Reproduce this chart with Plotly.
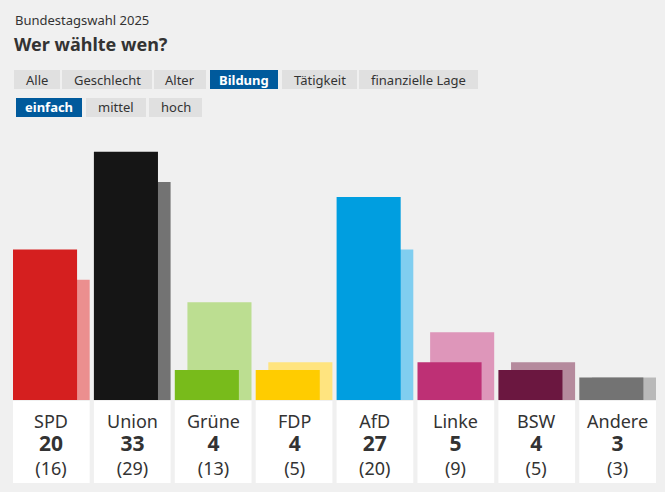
import plotly.graph_objects as go

# Data
parties = ["SPD", "Union", "Grüne", "FDP", "AfD", "Linke", "BSW", "Andere"]
share_2025 = [20, 33, 4, 4, 27, 5, 4, 3]
share_prev = [16, 29, 13, 5, 20, 9, 5, 3]

colors_main = ["#d51f1f", "#151515", "#78bb1b", "#ffcc00", "#009ee0", "#be3075", "#6b1740", "#737373"]
colors_prev = ["#eb8f8f", "#737373", "#bcde91", "#ffe47f", "#80cef0", "#de96ba", "#b58a9d", "#b9b9b9"]

tabs = ["Alle", "Geschlecht", "Alter", "Bildung", "Tätigkeit", "finanzielle Lage"]
subtabs = ["einfach", "mittel", "hoch"]
active_tab = "Bildung"
active_sub = "einfach"

FONT = "Noto Sans"
TXT = "#333333"
BLUE = "#005a9c"
BG = "#f0f0f0"

# plot area in pixels
W, H = 665, 492
L, R, T, B = 13, 656, 140, 483


def px_x(p):
    return (p - L) / (R - L)


def px_y(p):
    return (B - p) / (B - T)


fig = go.Figure()

# white label boxes below the bars
fig.add_trace(go.Bar(
    x=parties, y=[10.9] * len(parties), base=-11.04,
    width=0.948, marker=dict(color="white", line_width=0),
    hoverinfo="skip", showlegend=False,
))

# previous values (lighter, shifted right, behind)
fig.add_trace(go.Bar(
    x=parties, y=share_prev, offset=-0.318, width=0.792,
    marker=dict(color=colors_prev, line_width=0),
    name="vorher", showlegend=False,
))

# current values
fig.add_trace(go.Bar(
    x=parties, y=share_2025, offset=-0.474, width=0.792,
    marker=dict(color=colors_main, line_width=0),
    name="2025", showlegend=False,
))

annotations = []
for p, v, pv in zip(parties, share_2025, share_prev):
    annotations.append(dict(
        x=p, y=-0.95, yanchor="top", showarrow=False,
        text=f"{p}<br><span style='font-size:21px'><b>{v}</b></span><br>({pv})",
        font=dict(size=18, color=TXT, family=FONT)))

# header
annotations.append(dict(xref="paper", yref="paper", x=px_x(13), y=px_y(20),
                        xanchor="left", yanchor="middle", showarrow=False,
                        text="Bundestagswahl 2025",
                        font=dict(size=13, color=TXT, family=FONT)))
annotations.append(dict(xref="paper", yref="paper", x=px_x(12), y=px_y(44),
                        xanchor="left", yanchor="middle", showarrow=False,
                        text="<b>Wer wählte wen?</b>",
                        font=dict(size=18, color=TXT, family=FONT)))

# tab buttons
shapes = []
tab_edges = [(14, 60), (62, 152), (154, 206), (210, 278), (282, 357), (359, 478)]
sub_edges = [(16, 82), (86, 146), (149, 202)]


def add_buttons(labels, edges, y0, y1, active):
    for lab, (x0, x1) in zip(labels, edges):
        on = lab == active
        shapes.append(dict(type="rect", xref="paper", yref="paper",
                           x0=px_x(x0), x1=px_x(x1), y0=px_y(y1), y1=px_y(y0),
                           fillcolor=BLUE if on else "#e0e0e0", line_width=0, layer="below"))
        annotations.append(dict(xref="paper", yref="paper",
                                x=px_x((x0 + x1) / 2), y=px_y((y0 + y1) / 2),
                                xanchor="center", yanchor="middle", showarrow=False,
                                text=f"<b>{lab}</b>" if on else lab,
                                font=dict(size=13, color="white" if on else TXT, family=FONT)))


add_buttons(tabs, tab_edges, 70, 89, active_tab)
add_buttons(subtabs, sub_edges, 98, 117, active_sub)

fig.update_layout(
    width=W, height=H,
    margin=dict(l=L, r=W - R, t=T, b=H - B),
    paper_bgcolor=BG, plot_bgcolor=BG,
    barmode="overlay",
    xaxis=dict(range=[-0.474, 7.474], visible=False, fixedrange=True),
    yaxis=dict(range=[-11.04, 34.57], visible=False, fixedrange=True),
    annotations=annotations,
    shapes=shapes,
    font=dict(family=FONT, color=TXT),
)

fig.write_html("out.html", config={"displayModeBar": False},
               post_script="document.body.style.margin='0';document.body.style.background='#f0f0f0';")
